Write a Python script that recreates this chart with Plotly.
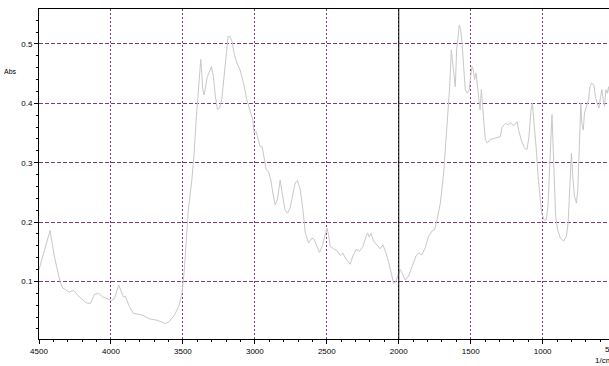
import plotly.graph_objects as go

# IR absorbance spectrum (wavenumber in 1/cm, absorbance in Abs)
wavenumber = [
    4500, 4423, 4394, 4354, 4335, 4289, 4261, 4220, 4173, 4143, 4115, 4087, 4057, 4022,
    3999, 3976, 3946, 3914, 3900, 3872, 3844, 3814, 3779, 3733, 3686, 3640, 3622, 3594,
    3559, 3529, 3506, 3490, 3462, 3438, 3422, 3408, 3392, 3380, 3376, 3369, 3362, 3353,
    3344, 3330, 3311, 3302, 3288, 3274, 3260, 3246, 3230, 3214, 3200, 3186, 3172, 3158,
    3144, 3125, 3102, 3079, 3056, 3033, 3014, 3005, 2991, 2977, 2963, 2949, 2935, 2921,
    2905, 2889, 2875, 2859, 2843, 2824, 2810, 2791, 2773, 2755, 2743, 2720, 2704, 2685,
    2666, 2650, 2627, 2604, 2588, 2569, 2551, 2532, 2513, 2499, 2488, 2476, 2453, 2430,
    2407, 2389, 2372, 2356, 2337, 2319, 2296, 2273, 2249, 2231, 2217, 2205, 2193, 2175,
    2152, 2129, 2110, 2094, 2078, 2064, 2050, 2036, 2022, 2008, 1990, 1974, 1955, 1932,
    1908, 1880, 1862, 1839, 1816, 1793, 1769, 1751, 1734, 1711, 1688, 1672, 1658, 1646,
    1635, 1626, 1616, 1607, 1598, 1588, 1579, 1570, 1560, 1549, 1538, 1524, 1510, 1501,
    1491, 1482, 1473, 1463, 1454, 1445, 1435, 1426, 1417, 1408, 1398, 1385, 1364, 1329,
    1294, 1282, 1259, 1236, 1224, 1201, 1178, 1167, 1150, 1127, 1109, 1095, 1081, 1072,
    1063, 1053, 1044, 1032, 1021, 1007, 989, 975, 963, 952, 942, 935, 928, 919,
    910, 896, 877, 854, 835, 823, 814, 807, 800, 791, 779, 765, 756, 746,
    739, 735, 728, 718, 709, 695, 681, 672, 660, 644, 633, 621, 609, 598,
    588, 579, 570, 561, 551, 542, 533, 520, 500,
]
absorbance = [
    0.120, 0.186, 0.143, 0.100, 0.089, 0.082, 0.085, 0.074, 0.064, 0.063, 0.078, 0.080, 0.074, 0.070,
    0.068, 0.071, 0.094, 0.074, 0.075, 0.058, 0.046, 0.045, 0.043, 0.037, 0.035, 0.031, 0.029, 0.033,
    0.043, 0.058, 0.081, 0.120, 0.221, 0.271, 0.316, 0.372, 0.428, 0.462, 0.474, 0.451, 0.423, 0.414,
    0.428, 0.445, 0.456, 0.462, 0.445, 0.411, 0.390, 0.392, 0.406, 0.445, 0.490, 0.513, 0.512, 0.504,
    0.484, 0.468, 0.456, 0.434, 0.406, 0.386, 0.372, 0.350, 0.353, 0.339, 0.327, 0.327, 0.305, 0.288,
    0.285, 0.271, 0.249, 0.229, 0.238, 0.271, 0.249, 0.221, 0.215, 0.224, 0.238, 0.266, 0.270, 0.255,
    0.221, 0.182, 0.165, 0.173, 0.171, 0.159, 0.149, 0.159, 0.176, 0.190, 0.179, 0.159, 0.155, 0.152,
    0.144, 0.148, 0.140, 0.134, 0.129, 0.143, 0.154, 0.151, 0.159, 0.173, 0.182, 0.175, 0.181, 0.168,
    0.162, 0.155, 0.162, 0.151, 0.140, 0.126, 0.109, 0.097, 0.099, 0.110, 0.120, 0.113, 0.102, 0.109,
    0.126, 0.143, 0.148, 0.145, 0.157, 0.176, 0.185, 0.187, 0.204, 0.232, 0.283, 0.333, 0.389, 0.428,
    0.490, 0.468, 0.445, 0.428, 0.490, 0.518, 0.532, 0.524, 0.501, 0.462, 0.423, 0.417, 0.423, 0.445,
    0.462, 0.456, 0.440, 0.451, 0.428, 0.411, 0.389, 0.423, 0.389, 0.367, 0.339, 0.333, 0.339, 0.341,
    0.344, 0.360, 0.366, 0.364, 0.368, 0.362, 0.369, 0.355, 0.339, 0.325, 0.322, 0.344, 0.389, 0.400,
    0.378, 0.355, 0.322, 0.277, 0.243, 0.215, 0.203, 0.204, 0.227, 0.277, 0.344, 0.381, 0.322, 0.249,
    0.210, 0.187, 0.173, 0.168, 0.176, 0.199, 0.249, 0.283, 0.316, 0.277, 0.243, 0.232, 0.255, 0.322,
    0.378, 0.400, 0.367, 0.355, 0.384, 0.395, 0.406, 0.428, 0.434, 0.431, 0.411, 0.400, 0.392, 0.411,
    0.423, 0.406, 0.395, 0.423, 0.417, 0.428, 0.411, 0.400, 0.390,
]

x_ticks = [4500, 4000, 3500, 3000, 2500, 2000, 1500, 1000]
y_ticks = [0.1, 0.2, 0.3, 0.4, 0.5]
y_tick_labels = ["0.1", "0.2", "0.3", "0.4", "0.5"]

GRID = "#7a3a7a"
FONT = dict(family="Liberation Sans, Arial, sans-serif", size=8, color="#000000")

fig = go.Figure()
fig.add_trace(go.Scatter(
    x=wavenumber, y=absorbance, mode="lines",
    line=dict(color="#c8c8c8", width=1), hoverinfo="x+y",
))

# marker line at 2000 1/cm
fig.add_shape(type="line", xref="x", yref="paper", x0=2000, x1=2000, y0=0, y1=1,
              line=dict(color="#000000", width=1))

fig.update_layout(
    width=609, height=366,
    margin=dict(l=39, r=0, t=9, b=27),
    plot_bgcolor="white", paper_bgcolor="white",
    showlegend=False, font=FONT,
    xaxis=dict(
        range=[4500, 539], tickvals=x_ticks, ticktext=[str(v) for v in x_ticks],
        ticks="outside", ticklen=4, tickcolor="#000000", tickwidth=1,
        showline=True, linecolor="#000000", linewidth=1, mirror=True,
        showgrid=True, gridcolor=GRID, gridwidth=1, griddash="2px,2px",
        zeroline=False, tickfont=FONT,
        minor=dict(dtick=100, ticks="outside", ticklen=2, tickcolor="#000000", showgrid=False),
    ),
    yaxis=dict(
        range=[0.0031, 0.5589], tickvals=y_ticks, ticktext=y_tick_labels,
        ticks="outside", ticklen=4, tickcolor="#000000", tickwidth=1,
        showline=True, linecolor="#000000", linewidth=1,
        showgrid=True, gridcolor=GRID, gridwidth=1, griddash="4px,2px",
        zeroline=False, tickfont=FONT,
        minor=dict(dtick=0.02, tick0=0, ticks="outside", ticklen=2, tickcolor="#000000", showgrid=False),
    ),
    annotations=[
        dict(text="Abs", xref="paper", yref="paper", x=-0.05, y=0.81, showarrow=False,
             xanchor="center", yanchor="middle", font=dict(FONT, size=7)),
        dict(text="500", xref="paper", yref="paper", x=(612 - 39) / 570, y=0, yshift=-4,
             showarrow=False, xanchor="center", yanchor="top", font=FONT),
        dict(text="1/cm", xref="paper", yref="paper", x=(593 - 39) / 570, y=0, yshift=-15,
             showarrow=False, xanchor="left", yanchor="top", font=FONT),
    ],
)

fig.write_html("out.html")
